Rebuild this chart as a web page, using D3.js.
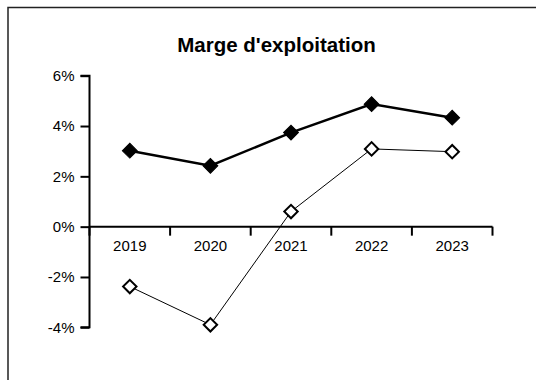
<!DOCTYPE html>
<html>
<head>
<meta charset="utf-8">
<script src="https://cdn.jsdelivr.net/npm/d3@7"></script>
<style>
  html, body { margin: 0; padding: 0; background: #fff; }
  svg { display: block; font-family: "Liberation Sans", Arial, sans-serif; }
</style>
</head>
<body>
<svg id="chart" width="536" height="380"></svg>
<script>
// Operating margin by year (%)
const years = ["2019", "2020", "2021", "2022", "2023"];
const margeA = [3.02, 2.42, 3.74, 4.87, 4.33];
const margeB = [-2.38, -3.9, 0.6, 3.09, 2.98];
const yTicks = [-4, -2, 0, 2, 4, 6];
const title = "Marge d'exploitation";

const svg = d3.select("#chart");

// outer frame
svg.append("rect")
  .attr("x", 8).attr("y", 7.5)
  .attr("width", 540).attr("height", 390)
  .attr("fill", "none").attr("stroke", "#222").attr("stroke-width", 1.5);

svg.append("text")
  .attr("x", 276.5).attr("y", 52)
  .attr("text-anchor", "middle")
  .attr("font-weight", "bold")
  .attr("font-size", 20.5)
  .text(title);

const x = d3.scaleBand().domain(years).range([89.5, 492.5]);
const y = d3.scaleLinear().domain([-4, 6]).range([327.3, 75.7]);

// y axis
const yAxis = svg.append("g")
  .attr("transform", "translate(89.5,0)")
  .call(d3.axisLeft(y).tickValues(yTicks).tickSize(9).tickPadding(6)
    .tickFormat(d => d + "%"));
yAxis.selectAll("path, line").attr("stroke", "#000").attr("stroke-width", 2);
yAxis.select(".domain").attr("d", `M-9,${y(6)}H0V${y(-4)}H-9`);
yAxis.selectAll("text").attr("font-size", 15).attr("fill", "#000")
  .attr("font-family", "Liberation Sans, Arial, sans-serif");

// x axis at zero, ticks on category boundaries
const xAxisG = svg.append("g").attr("transform", `translate(0,${y(0)})`);
xAxisG.append("line")
  .attr("x1", x.range()[0]).attr("x2", x.range()[1])
  .attr("stroke", "#000").attr("stroke-width", 2);
const bounds = years.map(d => x(d)).concat([x.range()[1]]);
xAxisG.selectAll(".tk").data(bounds).enter().append("line")
  .attr("x1", d => d).attr("x2", d => d)
  .attr("y1", 0).attr("y2", 9)
  .attr("stroke", "#000").attr("stroke-width", 2);
xAxisG.selectAll(".lbl").data(years).enter().append("text")
  .attr("x", d => x(d) + x.bandwidth() / 2)
  .attr("y", 24)
  .attr("text-anchor", "middle")
  .attr("font-size", 15)
  .text(d => d);

const cx = d => x(d) + x.bandwidth() / 2;
const diamond = d3.symbol().type(d3.symbolSquare);

function drawSeries(vals, lw, filled, msize) {
  const line = d3.line().x((d, i) => cx(years[i])).y(d => y(d));
  svg.append("path").datum(vals)
    .attr("d", line).attr("fill", "none")
    .attr("stroke", "#000").attr("stroke-width", lw);
  svg.selectAll(null).data(vals).enter().append("path")
    .attr("d", diamond.size(msize * msize))
    .attr("transform", (d, i) => `translate(${cx(years[i])},${y(d)}) rotate(45)`)
    .attr("fill", filled ? "#000" : "#fff")
    .attr("stroke", "#000").attr("stroke-width", filled ? 1 : 2);
}

drawSeries(margeB, 1, false, 9.5);
drawSeries(margeA, 2.5, true, 10.5);
</script>
</body>
</html>
